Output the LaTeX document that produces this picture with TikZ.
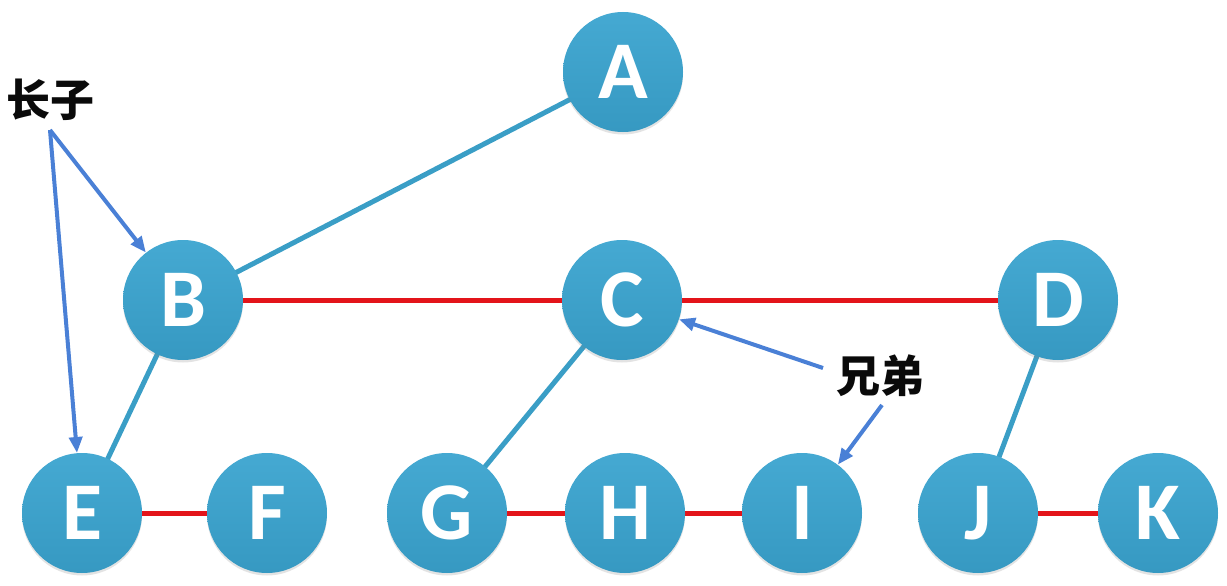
\documentclass[tikz,border=0pt]{standalone}
\usepackage{fontspec}
\setsansfont{Carlito}
\newfontfamily\cjk{Noto Sans CJK SC}[BoldFont={Noto Sans CJK SC Black}]
\usetikzlibrary{arrows.meta,shadows}
\definecolor{trBall}{HTML}{39A1CC}
\definecolor{trBallTop}{HTML}{45A9D2}
\definecolor{trLink}{HTML}{3A9EC6}
\definecolor{trSib}{HTML}{E3141A}
\definecolor{trPoint}{HTML}{4A80D6}
\definecolor{trInk}{HTML}{0A0A0A}
\newcommand{\TRLetter}{\sffamily\bfseries\fontsize{82}{82}\selectfont}
\newcommand{\TRNote}{\cjk\bfseries\fontsize{44}{46}\selectfont}
\tikzset{tr/base/.style={x=1pt,y=-1pt,line cap=butt,line join=miter},
  tr/ball/.style={circle,minimum size=120pt,inner sep=0pt,top color=trBallTop,
    bottom color=trBall!95!black,text=white,font=\TRLetter,
    drop shadow={shadow xshift=0pt,shadow yshift=-2.5pt,opacity=.22}},
  tr/link/.style={draw=trLink,line width=5pt},
  tr/sib/.style={draw=trSib,line width=5pt},
  tr/note/.style={font=\TRNote,text=trInk,inner sep=0pt},
  tr/point/.style={-{Triangle[length=16pt,width=13pt]},draw=trPoint,line width=4pt}}

\begin{document}
\begin{tikzpicture}[tr/base]
  \useasboundingbox (0,0) rectangle (1227,586);
  % edges first, balls on top
  \coordinate (pA) at (623,72);
  \foreach \n/\x/\y in {B/183/300,C/622/300,D/1058/300,
    E/82/513,F/267/513,G/447/513,H/625/513,I/802/513,J/978/513,K/1158/513}{
    \coordinate (p\n) at (\x,\y);}
  \draw[tr/link] (pB)--(pA);
  \draw[tr/link] (pB)--(pE);
  \draw[tr/link] (pC)--(pG);
  \draw[tr/link] (pD)--(pJ);
  \draw[tr/sib] (pB)--(pC)--(pD);
  \draw[tr/sib] (pE)--(pF);
  \draw[tr/sib] (pG)--(pH)--(pI);
  \draw[tr/sib] (pJ)--(pK);
  \foreach \n in {A,B,C,D,E,F,G,H,I,J,K}{
    \node[tr/ball] (\n) at (p\n) {\n};}
  % first child
  \node[tr/note] (eldest) at (50,100) {长子};
  \coordinate (eldTail) at (50,130);
  \draw[tr/point] (eldTail)--(B);
  \draw[tr/point] (eldTail)--(E);
  % siblings
  \node[tr/note] (sibling) at (880,376) {兄弟};
  \coordinate (sibTailC) at (823,368);
  \coordinate (sibTailI) at (882,405);
  \draw[tr/point] (sibTailC)--(C);
  \draw[tr/point] (sibTailI)--(I);
\end{tikzpicture}
\end{document}
